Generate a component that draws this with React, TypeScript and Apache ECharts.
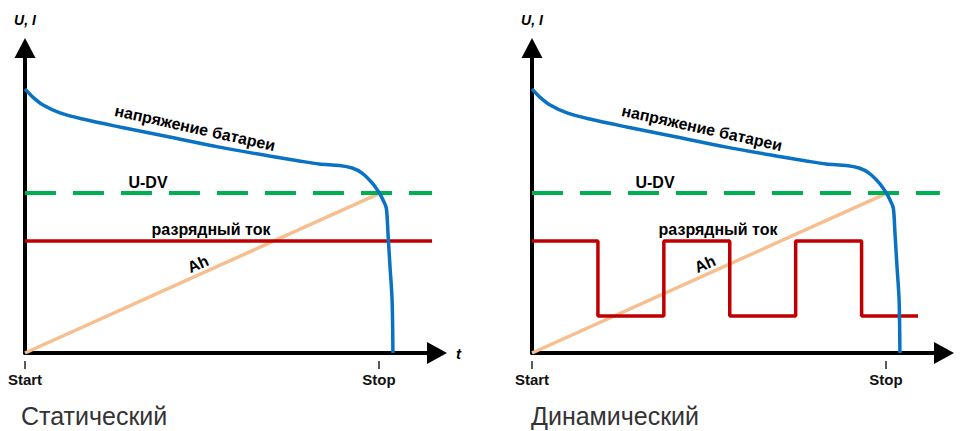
import React, { useEffect, useRef } from "react";
import * as echarts from "echarts";

// Battery voltage curve (time %, voltage %) – same shape in both charts
const voltT = [0, 1.9, 4.4, 8.5, 14.0, 23.0, 35.1, 47.2, 59.3, 66.6, 71.4, 76.3, 79.4, 81.8, 84.3, 86.0, 86.9, 87.7, 88.1, 88.6, 89.1, 89.3];
const voltU = [86.6, 83.9, 81.3, 78.7, 76.7, 74.1, 70.8, 67.5, 64.6, 62.95, 61.97, 61.5, 60.66, 59.0, 55.7, 52.46, 50.2, 47.5, 39.3, 28.2, 17.4, 0];

// U-DV threshold
const udvLevel = 52.5;
const udvEndLeft = 98.8;
const udvEndRight = 99.0;

// Static discharge current
const staticCurT = [0, 98.8];
const staticCurI = [36.7, 36.7];

// Dynamic (pulsed) discharge current, step points
const dynCurT = [0, 16, 16, 32, 32, 48, 48, 64, 64, 80, 80, 93.7];
const dynCurI = [36.7, 36.7, 12.1, 12.1, 36.7, 36.7, 12.1, 12.1, 36.7, 36.7, 12.1, 12.1];

// Ah accumulation line
const ahT = [0, 85.5];
const ahV = [0, 52];

// Time-axis marks
const markValues = [0, 85.9];
const markLabels = ["Start", "Stop"];

const FONT = "'Liberation Sans', Arial, sans-serif";

const zip = (a: number[], b: number[]) => a.map((v, i) => [v, b[i]]);

export default function App() {
  const ref = useRef<HTMLDivElement>(null);

  useEffect(() => {
    if (!ref.current) return;
    const chart = echarts.init(ref.current, null, { renderer: "svg" });

    const grids = [
      { left: 25, top: 48, width: 412, height: 305 },
      { left: 532, top: 48, width: 412, height: 305 },
    ];

    const mainX = (gi: number, name: string) => ({
      type: "value",
      gridIndex: gi,
      min: 0,
      max: 100,
      position: "bottom",
      axisLine: {
        show: true,
        symbol: ["none", "triangle"],
        symbolSize: [22, 20],
        lineStyle: { color: "#000", width: 4 },
      },
      axisTick: { show: false },
      axisLabel: { show: false },
      splitLine: { show: false },
      name,
      nameLocation: "end",
      nameGap: 19,
      nameTextStyle: { fontFamily: FONT, fontWeight: "bold", fontStyle: "italic", fontSize: 15, color: "#000" },
    });

    const markX = (gi: number) => ({
      type: "value",
      gridIndex: gi,
      min: 0,
      max: 100,
      position: "bottom",
      offset: 8,
      axisLine: { show: false },
      axisTick: {
        show: true,
        length: 8,
        customValues: markValues,
        lineStyle: { color: "#222", width: 1.5 },
      },
      axisLabel: {
        show: true,
        customValues: markValues,
        margin: 11,
        formatter: (v: number) => markLabels[markValues.indexOf(v)] ?? "",
        fontFamily: FONT,
        fontWeight: "bold",
        fontSize: 15,
        color: "#111",
      },
      splitLine: { show: false },
    });

    const yAx = (gi: number) => ({
      type: "value",
      gridIndex: gi,
      min: 0,
      max: 100,
      axisLine: {
        show: true,
        symbol: ["none", "triangle"],
        symbolSize: [21, 20],
        lineStyle: { color: "#000", width: 4 },
      },
      axisTick: { show: false },
      axisLabel: { show: false },
      splitLine: { show: false },
      name: "U, I",
      nameLocation: "end",
      nameGap: 21,
      nameTextStyle: { fontFamily: FONT, fontWeight: "bold", fontStyle: "italic", fontSize: 14, color: "#000" },
    });

    const line = (xi: number, yi: number, data: number[][], color: string, width: number, extra: any = {}) => ({
      type: "line",
      xAxisIndex: xi,
      yAxisIndex: yi,
      data,
      symbol: "none",
      silent: true,
      lineStyle: { color, width, ...(extra.lineStyle || {}) },
      smooth: extra.smooth ?? false,
      z: extra.z ?? 2,
    });

    const BLUE = "#0A72C2";
    const GREEN = "#00B050";
    const RED = "#C00000";
    const PEACH = "#F7BF90";

    const series: any[] = [];
    [0, 1].forEach((gi) => {
      const xi = gi * 2;
      series.push(line(xi, gi, zip(ahT, ahV), PEACH, 3.5, { z: 1 }));
      series.push(
        line(xi, gi, [[0, udvLevel], [gi === 0 ? udvEndLeft : udvEndRight, udvLevel]], GREEN, 4, {
          lineStyle: { type: [31, 17] },
          z: 2,
        })
      );
      series.push(
        line(xi, gi, gi === 0 ? zip(staticCurT, staticCurI) : zip(dynCurT, dynCurI), RED, 3.5, { z: 3 })
      );
      series.push(line(xi, gi, zip(voltT, voltU), BLUE, 3.5, { smooth: 0.3, z: 4 }));
    });

    const label = (text: string, x: number, y: number, rot = 0) => ({
      type: "text",
      x,
      y,
      rotation: rot,
      z: 10,
      style: {
        text,
        fontFamily: FONT,
        fontWeight: "bold",
        fontSize: 16,
        fill: "#000",
        textAlign: "center",
        textVerticalAlign: "middle",
      },
    });

    const caption = (text: string, x: number, y: number) => ({
      type: "text",
      x,
      y,
      z: 10,
      style: {
        text,
        fontFamily: FONT,
        fontSize: 25,
        fill: "#333",
        textAlign: "left",
        textVerticalAlign: "middle",
      },
    });

    const deg = Math.PI / 180;
    const graphic: any[] = [];
    [0, 507].forEach((dx) => {
      graphic.push(label("напряжение батареи", 195 + dx, 128, -12.5 * deg));
      graphic.push(label("U-DV", 148 + dx, 182));
      graphic.push(label("разрядный ток", 211 + dx, 229));
      graphic.push(label("Ah", 198 + dx, 264, 24 * deg));
    });
    graphic.push(caption("Статический", 21, 416));
    graphic.push(caption("Динамический", 531, 416));

    chart.setOption({
      animation: false,
      backgroundColor: "#fff",
      grid: grids,
      xAxis: [mainX(0, "t"), markX(0), mainX(1, ""), markX(1)],
      yAxis: [yAx(0), yAx(1)],
      series,
      graphic,
    });

    return () => chart.dispose();
  }, []);

  return (
    <div
      ref={ref}
      style={{ position: "fixed", left: 0, top: 0, width: 963, height: 431, background: "#fff" }}
    />
  );
}
